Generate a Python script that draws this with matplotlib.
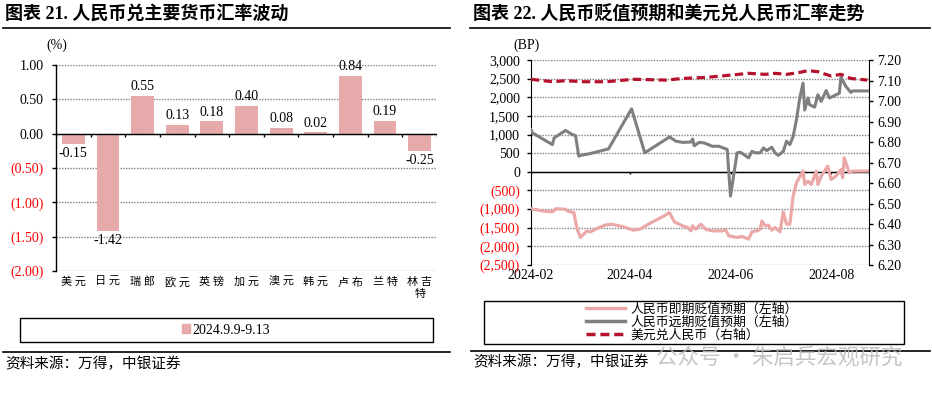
import numpy as np
import pandas as pd
import matplotlib
matplotlib.use('Agg')
import matplotlib.pyplot as plt
from matplotlib.lines import Line2D
from matplotlib.patches import Rectangle, Patch

plt.rcParams['font.family'] = ['Liberation Serif', 'Noto Sans CJK SC']
plt.rcParams['axes.unicode_minus'] = False

# ---------------- data ----------------
currencies = ['美元', '日元', '瑞郎', '欧元', '英镑', '加元', '澳元', '韩元', '卢布', '兰特', '林吉特']
changes = [-0.15, -1.42, 0.55, 0.13, 0.18, 0.40, 0.08, 0.02, 0.84, 0.19, -0.25]
period_label = '2024.9.9-9.13'

spot_dates = ['2024-02-01', '2024-02-08', '2024-02-14', '2024-02-16', '2024-02-22', '2024-02-23',
              '2024-02-27', '2024-02-29', '2024-03-02', '2024-03-04', '2024-03-06', '2024-03-08',
              '2024-03-12', '2024-03-17', '2024-03-21', '2024-03-28', '2024-04-03', '2024-04-07',
              '2024-04-14', '2024-04-21', '2024-04-25', '2024-04-28', '2024-05-03', '2024-05-06',
              '2024-05-08', '2024-05-09', '2024-05-11', '2024-05-14', '2024-05-17', '2024-05-21',
              '2024-05-27', '2024-05-29', '2024-05-31', '2024-06-05', '2024-06-08', '2024-06-12',
              '2024-06-14', '2024-06-17', '2024-06-19', '2024-06-20', '2024-06-22', '2024-06-24',
              '2024-06-26', '2024-06-28', '2024-07-01', '2024-07-03', '2024-07-05', '2024-07-07',
              '2024-07-09', '2024-07-11', '2024-07-15', '2024-07-16', '2024-07-18', '2024-07-20',
              '2024-07-23', '2024-07-24', '2024-07-26', '2024-07-30', '2024-08-01', '2024-08-04',
              '2024-08-07', '2024-08-08', '2024-08-09', '2024-08-12', '2024-08-14', '2024-08-23']
spot_bp = [-990, -1050, -1075, -990, -1005, -1050,
           -1095, -1540, -1760, -1670, -1585, -1610,
           -1520, -1430, -1405, -1475, -1565, -1540,
           -1360, -1200, -1095, -1345, -1450, -1495,
           -1585, -1450, -1540, -1405, -1540, -1585,
           -1585, -1560, -1720, -1760, -1735, -1805,
           -1610, -1585, -1540, -1320, -1450, -1430,
           -1565, -1495, -1610, -1075, -1405, -1405,
           -650, -295, 20, -340, -250, -340,
           20, -340, -115, 150, -205, -115,
           60, -160, 375, -25, 20, 20]

fwd_dates = ['2024-02-01', '2024-02-02', '2024-02-14', '2024-02-15', '2024-02-22', '2024-02-26',
             '2024-02-28', '2024-03-01', '2024-03-02', '2024-03-08', '2024-03-19', '2024-04-02',
             '2024-04-10', '2024-04-25', '2024-04-29', '2024-05-03', '2024-05-08', '2024-05-09',
             '2024-05-10', '2024-05-13', '2024-05-16', '2024-05-21', '2024-05-25', '2024-05-30',
             '2024-06-01', '2024-06-05', '2024-06-07', '2024-06-12', '2024-06-14', '2024-06-16',
             '2024-06-19', '2024-06-21', '2024-06-23', '2024-06-26', '2024-06-28', '2024-06-30',
             '2024-07-03', '2024-07-05', '2024-07-07', '2024-07-09', '2024-07-11', '2024-07-13',
             '2024-07-15', '2024-07-16', '2024-07-18', '2024-07-19', '2024-07-22', '2024-07-24',
             '2024-07-26', '2024-07-29', '2024-07-31', '2024-08-04', '2024-08-06', '2024-08-07',
             '2024-08-10', '2024-08-13', '2024-08-14', '2024-08-23']
fwd_bp = [1130, 1040, 730, 910, 1110, 1000,
          970, 420, 440, 490, 615, 1690,
          510, 935, 820, 790, 800, 880,
          700, 790, 775, 685, 685, 600,
          -650, 510, 525, 375, 550, 510,
          510, 640, 570, 660, 510, 440,
          550, 820, 730, 950, 1400, 1980,
          2380, 1660, 1980, 1800, 1735, 2065,
          1890, 2180, 1980, 2065, 2110, 2540,
          2290, 2130, 2170, 2170]

usd_dates = ['2024-02-01', '2024-02-14', '2024-02-22', '2024-03-04', '2024-03-18', '2024-04-03',
             '2024-04-23', '2024-05-03', '2024-05-17', '2024-06-02', '2024-06-12', '2024-06-22',
             '2024-06-28', '2024-07-05', '2024-07-12', '2024-07-18', '2024-07-24', '2024-07-28',
             '2024-08-01', '2024-08-07', '2024-08-13', '2024-08-23']
usdcny = [7.106, 7.094, 7.099, 7.094, 7.094, 7.106,
          7.102, 7.110, 7.115, 7.127, 7.135, 7.130,
          7.135, 7.130, 7.138, 7.148, 7.143, 7.132,
          7.122, 7.130, 7.110, 7.102]

date_ticks = ['2024-02-01', '2024-04-01', '2024-06-01', '2024-08-01']
date_range = ['2024-02-01', '2024-08-24']

legend_labels = ['人民币即期贬值预期（左轴）', '人民币远期贬值预期（左轴）', '美元兑人民币（右轴）']

# ---------------- styles ----------------
W, H = 932, 394
BAR_C = '#E6AAAA'
SPOT_C = '#EBA8A8'
FWD_C = '#7F7F7F'
USD_C = '#B5122E'
GRID_C = '#808080'
NEG_C = '#FF0000'
CJK = ['Liberation Serif', 'Noto Sans CJK SC']
DASH = (2.6, 1.4)


def fx(x):
    return x / W


def fy(y):
    return 1 - y / H


fig = plt.figure(figsize=(W / 100, H / 100), dpi=100)
fig.patch.set_facecolor('white')

# ================= left chart =================
ax1 = fig.add_axes([fx(56), fy(271), 381 / W, 206 / H])
xpos = np.arange(len(currencies))
bars = ax1.bar(xpos, changes, width=0.66, color=BAR_C, zorder=3)
ax1.set_xlim(-0.5, len(currencies) - 0.5)
ax1.set_ylim(-2, 1)
yt = np.arange(-2, 1.01, 0.5)
ax1.set_yticks(yt)
ax1.set_yticklabels([f'{v:.2f}' if v >= 0 else f'({-v:.2f})' for v in yt], fontsize=10)
for lab, v in zip(ax1.get_yticklabels(), yt):
    lab.set_color(NEG_C if v < 0 else 'black')
ax1.grid(axis='y', linestyle=(0, (1, 1)), color=GRID_C, lw=1.0, zorder=0)
ax1.set_axisbelow(True)
for s in ['top', 'right', 'bottom']:
    ax1.spines[s].set_visible(False)
ax1.spines['left'].set_color('black')
ax1.spines['left'].set_linewidth(1.0)
ax1.tick_params(axis='y', direction='out', length=3, width=1, pad=6)
ax1.axhline(0, color='black', lw=1.0, zorder=4)
ax1.vlines(np.arange(-0.5, len(currencies), 1), -0.045, 0, color='black', lw=1.0, zorder=4)


def cat_label(name):
    s = ' '.join(name[:2])
    if len(name) > 2:
        s += '\n' + name[2:]
    return s


ax1.set_xticks(xpos)
ax1.set_xticklabels([cat_label(c) for c in currencies], fontsize=8, linespacing=1.25)
ax1.tick_params(axis='x', length=0, pad=4)
ax1.bar_label(bars, labels=[f'{v:.2f}' for v in changes], padding=2, fontsize=10)

fig.text(fx(57), fy(45), '(%)', fontsize=10, ha='center', va='center')

# ================= right chart =================
ax2 = fig.add_axes([fx(531), fy(265), 338 / W, 205 / H])
sd = pd.to_datetime(spot_dates)
fd = pd.to_datetime(fwd_dates)
ud = pd.to_datetime(usd_dates)
ax2.plot(sd, spot_bp, color=SPOT_C, lw=2.3, zorder=3, solid_joinstyle='round')
ax2.plot(fd, fwd_bp, color=FWD_C, lw=2.2, zorder=3, solid_joinstyle='round')
ax2.set_ylim(-2500, 3000)
yt2 = np.arange(-2500, 3001, 500)
ax2.set_yticks(yt2)


def bp_fmt(v):
    if v < 0:
        return f'({-v:,.0f})'
    return f'{v:,.0f}'


ax2.set_yticklabels([bp_fmt(v) for v in yt2], fontsize=10)
for lab, v in zip(ax2.get_yticklabels(), yt2):
    lab.set_color(NEG_C if v < 0 else 'black')
ax2.grid(axis='y', linestyle=(0, (1, 1)), color=GRID_C, lw=1.0, zorder=0)
ax2.set_axisbelow(True)
xlo, xhi = pd.to_datetime(date_range)
ax2.set_xlim(xlo, xhi)
xt = pd.to_datetime(date_ticks)
ax2.set_xticks(xt)
ax2.set_xticklabels([d.strftime('%Y-%m') for d in xt], fontsize=10)
ax2.tick_params(axis='x', length=0, pad=3)
ax2.tick_params(axis='y', direction='out', length=3, width=1, pad=5)
for s in ['top', 'right', 'bottom']:
    ax2.spines[s].set_visible(False)
ax2.axhline(0, color='black', lw=1.0, zorder=2)
ax2.vlines(xt, -60, 0, color='black', lw=1.0, zorder=2)

ax3 = ax2.twinx()
ax3.plot(ud, usdcny, color=USD_C, lw=2.3, dashes=DASH, zorder=4)
ax3.set_ylim(6.2, 7.2)
yt3 = np.arange(6.2, 7.201, 0.1)
ax3.set_yticks(yt3)
ax3.set_yticklabels([f'{v:.2f}' for v in yt3], fontsize=10)
ax3.tick_params(axis='y', direction='out', length=3, width=1, pad=3)
for s in ['top', 'left', 'bottom']:
    ax3.spines[s].set_visible(False)
ax3.spines['right'].set_color('black')
ax3.set_xlim(xlo, xhi)

fig.text(fx(526), fy(45), '(BP)', fontsize=10, ha='center', va='center')

# ================= titles, rules, legends, sources =================
fig.text(fx(5), fy(14), '图表 21. 人民币兑主要货币汇率波动', fontsize=13, fontweight='bold',
         ha='left', va='center', family=CJK)
fig.text(fx(473), fy(14), '图表 22. 人民币贬值预期和美元兑人民币汇率走势', fontsize=13,
         fontweight='bold', ha='left', va='center', family=CJK)

for (x0, x1, y) in [(3, 450, 28), (470, 930, 28), (3, 450, 352), (471, 930, 351)]:
    fig.add_artist(Line2D([fx(x0), fx(x1)], [fy(y), fy(y)], transform=fig.transFigure,
                          color='black', lw=1.2))

# left legend
fig.add_artist(Rectangle((fx(20), fy(342)), 413 / W, 24 / H, transform=fig.transFigure,
                         fill=False, ec='black', lw=1.0))
fig.legend(handles=[Patch(color=BAR_C)], labels=[period_label], loc='center',
           bbox_to_anchor=(fx(226), fy(330)), frameon=False, fontsize=10,
           handlelength=0.6, handleheight=0.6, handletextpad=0.15, borderpad=0)

# right legend
fig.add_artist(Rectangle((fx(484), fy(344)), 420 / W, 43 / H, transform=fig.transFigure,
                         fill=False, ec='black', lw=1.0))
handles = [Line2D([], [], color=SPOT_C, lw=2.5),
           Line2D([], [], color=FWD_C, lw=2.5),
           Line2D([], [], color=USD_C, lw=2.5, dashes=DASH)]
fig.legend(handles=handles, labels=legend_labels, loc='center',
           bbox_to_anchor=(fx(692), fy(322.5)), frameon=False,
           prop={'family': CJK, 'size': 9.3},
           handlelength=3.0, labelspacing=0.05, handletextpad=0.4, borderpad=0)

fig.text(fx(5), fy(364), '资料来源：万得，中银证券', fontsize=10.5, ha='left', va='center', family=CJK)
fig.text(fx(473), fy(362), '资料来源：万得，中银证券', fontsize=10.5, ha='left', va='center', family=CJK)

# watermark
fig.text(fx(656), fy(358), '公众号 · 朱启兵宏观研究', fontsize=15.5, color='#BBBBBB', alpha=0.85,
         ha='left', va='center', family=['Noto Sans CJK SC'])

fig.savefig('out.png', dpi=100, facecolor='white')
